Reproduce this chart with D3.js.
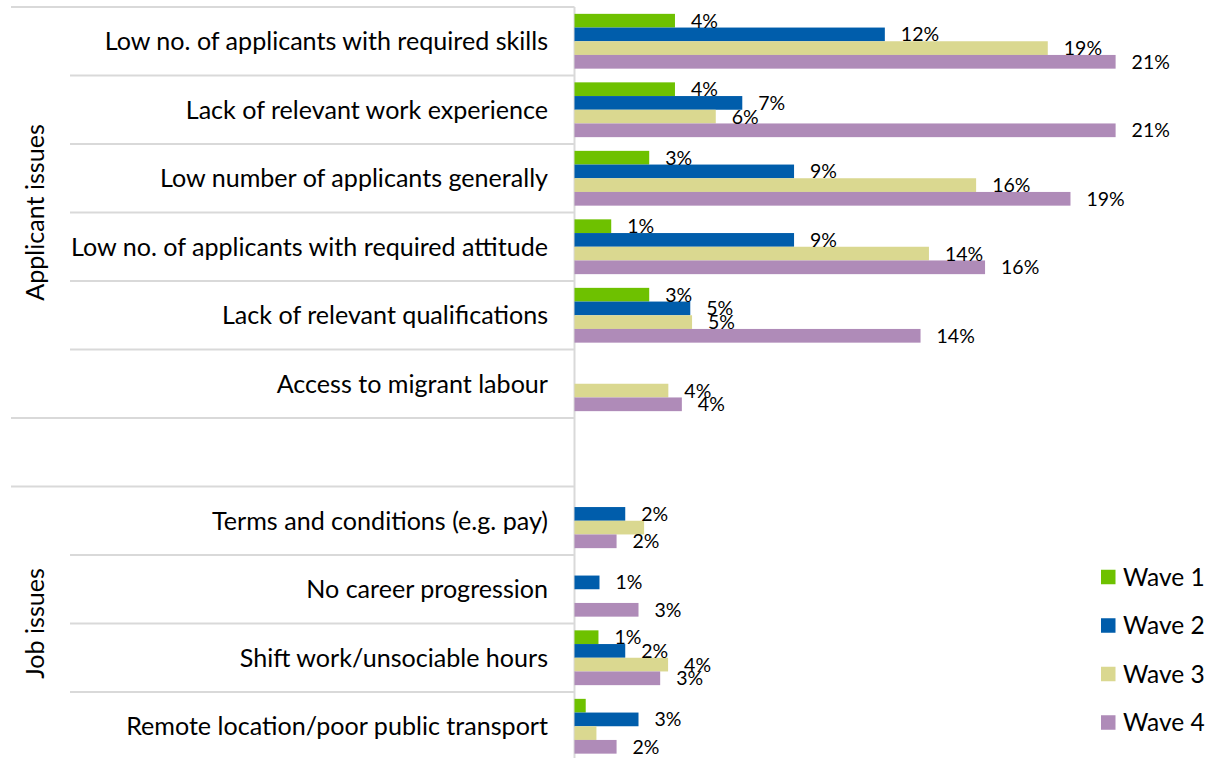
<!DOCTYPE html>
<html>
<head>
<meta charset="utf-8">
<script src="https://cdn.jsdelivr.net/npm/d3@7"></script>
<style>
  html, body { margin: 0; padding: 0; background: #ffffff; }
  svg { display: block; font-family: Lato, "Open Sans", sans-serif; }
</style>
</head>
<body>
<svg id="chart" width="1205" height="758"></svg>
<script>
// ---- Data (percent) ----
const categories = [
  "Low no. of applicants with required skills",
  "Lack of relevant work experience",
  "Low number of applicants generally",
  "Low no. of applicants with required attitude",
  "Lack of relevant qualifications",
  "Access to migrant labour",
  "",
  "Terms and conditions (e.g. pay)",
  "No career progression",
  "Shift work/unsociable hours",
  "Remote location/poor public transport"
];
const groups = [
  { name: "Applicant issues", first: 0, last: 5 },
  { name: "Job issues", first: 7, last: 10 }
];
const waves = ["Wave 1", "Wave 2", "Wave 3", "Wave 4"];
const wave1 = [3.94, 3.94, 2.93, 1.44, 2.93, null, null, null, null, 0.94, 0.44];
const wave2 = [12.17, 6.58, 8.61, 8.61, 4.54, null, null, 1.99, 0.98, 1.99, 2.51];
const wave3 = [18.56, 5.54, 15.75, 13.9, 4.61, 3.68, null, 2.73, null, 3.67, 0.86];
const wave4 = [21.22, 21.22, 19.45, 16.1, 13.57, 4.21, null, 1.65, 2.51, 3.36, 1.65];
const colors = ["#6ec100", "#005dab", "#dad890", "#af8bb8"];
// labels removed in the original chart: [category index, wave index]
const hiddenLabels = [[7, 2], [10, 0], [10, 2]];

const seriesValues = [wave1, wave2, wave3, wave4];

// ---- Layout ----
const svg = d3.select("#chart");
const axisX = 574.5;
const topY = 7, slotH = 68.5;

const y = d3.scaleBand()
  .domain(d3.range(categories.length))
  .range([topY, topY + slotH * categories.length])
  .paddingInner(0).paddingOuter(0);

const yInner = d3.scaleBand()
  .domain(d3.range(waves.length))
  .range([0, y.bandwidth()])
  .paddingInner(0).paddingOuter(0.5);

const x = d3.scaleLinear().domain([0, 25]).range([axisX, axisX + 25 * 25.5]);

const gridColor = "#d9d9d9";

// separator lines
const boundaries = d3.range(categories.length + 1);
const groupBounds = new Set([0, 6, 7, 11]);
svg.append("g").selectAll("line")
  .data(boundaries)
  .join("line")
  .attr("x1", d => groupBounds.has(d) ? 11 : 70)
  .attr("x2", axisX)
  .attr("y1", d => topY + d * slotH)
  .attr("y2", d => topY + d * slotH)
  .attr("stroke", gridColor)
  .attr("stroke-width", 2);

// axis line
svg.append("line")
  .attr("x1", axisX).attr("x2", axisX)
  .attr("y1", topY).attr("y2", topY + slotH * categories.length)
  .attr("stroke", gridColor).attr("stroke-width", 2);

// category labels
svg.append("g").selectAll("text")
  .data(categories)
  .join("text")
  .attr("x", 548)
  .attr("y", (d, i) => y(i) + y.bandwidth() / 2 + 9)
  .attr("text-anchor", "end")
  .attr("font-size", 25.1)
  .attr("fill", "#000")
  .text(d => d);

// group labels (rotated)
svg.append("g").selectAll("text")
  .data(groups)
  .join("text")
  .attr("transform", g => {
    const cy = (y(g.first) + y(g.last) + y.bandwidth()) / 2;
    return `translate(44,${cy}) rotate(-90)`;
  })
  .attr("text-anchor", "middle")
  .attr("font-size", 25.1)
  .attr("fill", "#000")
  .text(g => g.name);

// bars
const barData = [];
seriesValues.forEach((vals, w) => {
  vals.forEach((v, c) => {
    if (v != null) barData.push({ c, w, v });
  });
});

svg.append("g").selectAll("rect")
  .data(barData)
  .join("rect")
  .attr("x", x(0))
  .attr("y", d => y(d.c) + yInner(d.w))
  .attr("width", d => x(d.v) - x(0))
  .attr("height", yInner.bandwidth())
  .attr("fill", d => colors[d.w]);

// data labels
const isHidden = d => hiddenLabels.some(h => h[0] === d.c && h[1] === d.w);
svg.append("g").selectAll("text")
  .data(barData.filter(d => !isHidden(d)))
  .join("text")
  .attr("x", d => x(d.v) + 16)
  .attr("y", d => y(d.c) + yInner(d.w) + yInner.bandwidth() / 2 + 7)
  .attr("font-size", 19.5)
  .attr("fill", "#000")
  .text(d => d3.format(".0f")(d.v) + "%");

// legend
const legend = svg.append("g").selectAll("g")
  .data(waves)
  .join("g")
  .attr("transform", (d, i) => `translate(1101,${577 + i * 48.5})`);
legend.append("rect")
  .attr("x", 0).attr("y", -7.25)
  .attr("width", 14.5).attr("height", 14.5)
  .attr("fill", (d, i) => colors[i]);
legend.append("text")
  .attr("x", 22).attr("y", 8.8)
  .attr("font-size", 24.5)
  .attr("fill", "#000")
  .text(d => d);
</script>
</body>
</html>
